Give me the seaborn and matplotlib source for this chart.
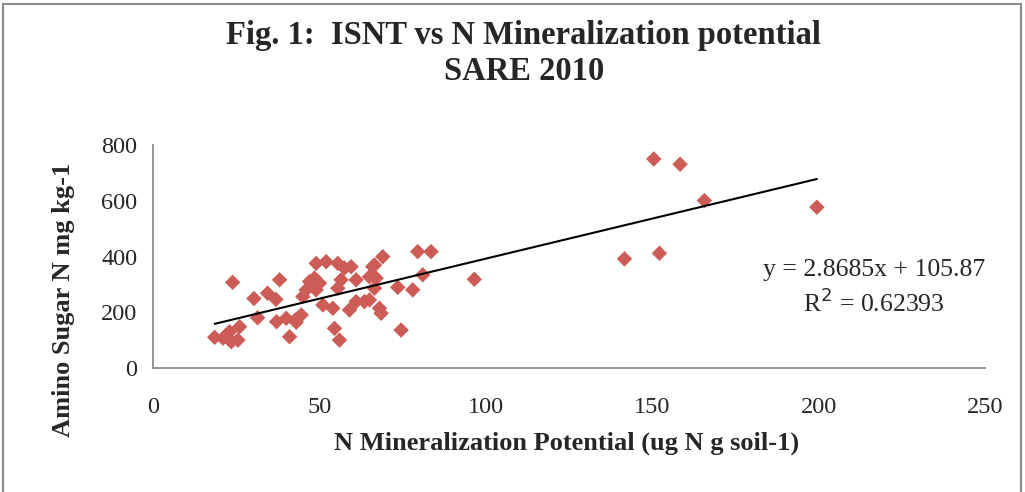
import numpy as np
import pandas as pd
import matplotlib
matplotlib.use("Agg")
import matplotlib.pyplot as plt
import seaborn as sns
from matplotlib.patches import Rectangle

# Dados
n_min = [18.6, 21.1, 22.0, 23.1, 23.6, 25.6, 26.1, 24.0,
         30.4, 31.5, 34.5, 37.0, 37.2, 38.1,
         40.1, 41.1, 42.8, 43.1, 44.6, 45.1, 46.1, 47.1, 48.6, 49.1, 49.1, 50.1,
         51.1, 52.1, 54.1, 54.6, 55.6, 55.6, 56.1, 56.6, 57.6, 59.1, 59.6, 61.1,
         61.1, 63.6, 65.1, 65.1, 66.1, 66.6, 66.6, 67.1, 68.1, 68.6, 69.1, 73.6,
         74.6, 78.1, 79.6, 81.1, 83.6, 96.6,
         141.7, 150.5, 152.2, 158.4, 165.7, 199.5]
amino_sugar = [111, 108, 118, 131, 95, 101, 149, 308,
               250, 181, 269, 247, 167, 317,
               179, 113, 173, 165, 191, 257, 281, 311, 323, 281, 376, 305,
               227, 382, 215, 143, 287, 376, 101, 317, 359, 209, 364, 239,
               317, 239, 328, 245, 364, 370, 287, 323, 215, 197, 400, 290,
               137, 281, 418, 335, 418, 319,
               392, 750, 412, 731, 601, 577]

# Linha de tendência (equação do Excel)
inclinacao = 2.8685
intercepto = 105.87
r2 = 0.62393

dataset = pd.DataFrame({"x": n_min, "y": amino_sugar})
tendencia = pd.DataFrame({"x": [min(n_min), max(n_min)]})
tendencia["y"] = inclinacao * tendencia["x"] + intercepto

sns.set_style("white")
plt.rcParams['font.family'] = ['Liberation Serif', 'DejaVu Serif']

fig = plt.figure(figsize=(10.25, 4.92), dpi=100)
ax = fig.add_axes([0.149, 0.2514, 0.812, 0.4539])

sns.scatterplot(data=dataset, x="x", y="y", marker="D", s=62,
                color="#CD5C57", edgecolor="none", ax=ax, zorder=2)
sns.lineplot(data=tendencia, x="x", y="y", color="black", linewidth=1.5,
             ax=ax, zorder=3)

ax.set_xlim(0, 250)
ax.set_ylim(0, 800)
ax.set_xticks(range(0, 251, 50))
ax.set_yticks(range(0, 801, 200))
ax.set_xlabel("")
ax.set_ylabel("")
ax.tick_params(axis="both", labelsize=17.5, length=5, width=1, color="#8c8c8c",
               direction="out", pad=6)
ax.tick_params(axis="x", pad=16)
for lado in ["top", "right"]:
    ax.spines[lado].set_visible(False)
for lado in ["left", "bottom"]:
    ax.spines[lado].set_color("#8c8c8c")
    ax.spines[lado].set_linewidth(1.3)

# Equação e R²
ax.text(0.853, 0.452, "y = 2.8685x + 105.87", transform=fig.transFigure,
        ha="center", va="center", fontsize=18.5)
ax.text(0.853, 0.385, "R$^2$ = 0.62393", transform=fig.transFigure,
        ha="center", va="center", fontsize=18.5)

# Títulos
fig.text(0.511, 0.928, "Fig. 1:  ISNT vs N Mineralization potential",
         ha="center", va="center", fontsize=23.5, fontweight="bold")
fig.text(0.511, 0.855, "SARE 2010", ha="center", va="center",
         fontsize=23.5, fontweight="bold")
fig.text(0.553, 0.10, "N Mineralization Potential (ug N g soil-1)",
         ha="center", va="center", fontsize=19, fontweight="bold")
fig.text(0.062, 0.39, "Amino Sugar N mg kg-1", ha="center", va="center",
         rotation=90, fontsize=19, fontweight="bold")

# Borda do gráfico
fig.patches.append(Rectangle((0.003, -0.02), 0.993, 1.012, transform=fig.transFigure,
                             fill=False, edgecolor="#8c8c8c", linewidth=1.5))

fig.savefig("out.png", dpi=100)
